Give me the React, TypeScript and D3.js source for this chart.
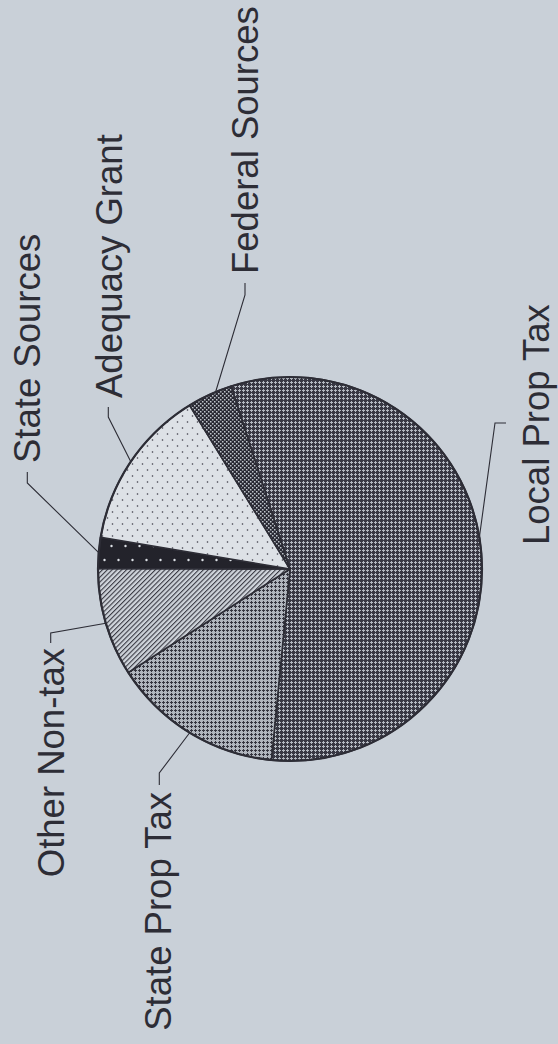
import React from "react";
import * as d3 from "d3";

// ---- data ----
const categories = [
  "Local Prop Tax",
  "State Prop Tax",
  "Other Non-tax",
  "State Sources",
  "Adequacy Grant",
  "Federal Sources",
];
const shares = [56.5, 14.4, 9.1, 2.6, 13.6, 3.8];
const patternIds = ["pLocal", "pStateProp", "pOther", "pStateSrc", "pAdequacy", "pFederal"];

// ---- layout ----
const W = 558;
const H = 1044;
const CX = 290;
const CY = 569;
const R = 192;
const START_DEG = -17.85;
const BG = "#c9d0d8";
const INK = "#2d2d36";

type Lay = { angle: number; elbow: [number, number]; end: [number, number]; text: [number, number]; anchor: string };
const labelLayout: Lay[] = [
  { angle: 80.5, elbow: [495, 423], end: [506, 423], text: [536, 545], anchor: "start" },
  { angle: 211.5, elbow: [159.3, 773], end: [159.3, 785], text: [158, 792], anchor: "end" },
  { angle: 253.6, elbow: [50.7, 633], end: [50.7, 643], text: [50.5, 648], anchor: "end" },
  { angle: 274.9, elbow: [27.3, 483], end: [27.3, 472], text: [27, 463], anchor: "start" },
  { angle: 304, elbow: [108.3, 417], end: [108.3, 407], text: [108.5, 398], anchor: "start" },
  { angle: 337.2, elbow: [245, 295], end: [245, 283], text: [245, 274], anchor: "start" },
];

export default function App() {
  const s0 = (START_DEG * Math.PI) / 180;
  const pie = d3.pie<number>().sort(null).startAngle(s0).endAngle(s0 + 2 * Math.PI);
  const arcs = pie(shares);
  const arcGen = d3.arc<d3.PieArcDatum<number>>().innerRadius(0).outerRadius(R);

  return (
    <>
      <style>{`body{margin:0;}`}</style>
      <svg width={W} height={H} style={{ position: "absolute", left: 0, top: 0, display: "block" }}>
        <defs>
          <pattern id="pLocal" width={4} height={4} patternUnits="userSpaceOnUse">
            <rect width={4} height={4} fill="#383843" />
            <path d="M0,1h3v1h-3z M1,0h1v3h-1z" fill="#b4b9c1" />
          </pattern>
          <pattern id="pStateProp" width={4} height={4} patternUnits="userSpaceOnUse">
            <rect width={4} height={4} fill="#b0b5bd" />
            <path d="M0,1h3v1h-3z M1,0h1v3h-1z" fill="#35353f" />
          </pattern>
          <pattern id="pOther" width={3.4} height={10} patternUnits="userSpaceOnUse" patternTransform="rotate(45)">
            <rect width={3.4} height={10} fill="#cfd4db" />
            <rect width={1.1} height={10} fill="#3a3a44" />
          </pattern>
          <pattern id="pStateSrc" width={14} height={28} patternUnits="userSpaceOnUse">
            <rect width={14} height={28} fill="#23232b" />
            <circle cx={3.5} cy={5} r={1.2} fill="#dde1e6" />
            <circle cx={10.5} cy={19} r={1.2} fill="#dde1e6" />
          </pattern>
          <pattern id="pAdequacy" width={10} height={12} patternUnits="userSpaceOnUse">
            <rect width={10} height={12} fill="#dde1e6" />
            <circle cx={2.5} cy={3} r={0.8} fill="#3a3a44" />
            <circle cx={7.5} cy={9} r={0.8} fill="#3a3a44" />
          </pattern>
          <pattern id="pFederal" width={4} height={4} patternUnits="userSpaceOnUse">
            <rect width={4} height={4} fill="#282832" />
            <rect x={0} y={0} width={1.5} height={1.5} fill="#c0c5cc" />
            <rect x={2} y={2} width={1.5} height={1.5} fill="#c0c5cc" />
          </pattern>
        </defs>
        <rect width={W} height={H} fill={BG} />
        <g transform={`translate(${CX},${CY})`}>
          {arcs.map((a, i) => (
            <path
              key={categories[i]}
              d={arcGen(a) || ""}
              fill={`url(#${patternIds[i]})`}
              stroke={INK}
              strokeWidth={1.6}
              strokeLinejoin="round"
            />
          ))}
          <circle r={R} fill="none" stroke={INK} strokeWidth={2.2} />
        </g>
        {labelLayout.map((l, i) => {
          const p = d3.pointRadial((l.angle * Math.PI) / 180, R);
          const pts: [number, number][] = [[CX + p[0], CY + p[1]], l.elbow, l.end];
          const line = d3.line();
          return (
            <g key={"lab" + i}>
              <path d={line(pts) || ""} fill="none" stroke={INK} strokeWidth={1.1} />
              <text
                transform={`translate(${l.text[0]},${l.text[1]}) rotate(-90)`}
                textAnchor={l.anchor as any}
                dy="0.358em"
                fontFamily="'Liberation Sans', Arial, sans-serif"
                fontSize={36.5}
                fill={INK}
              >
                {categories[i]}
              </text>
            </g>
          );
        })}
      </svg>
    </>
  );
}
